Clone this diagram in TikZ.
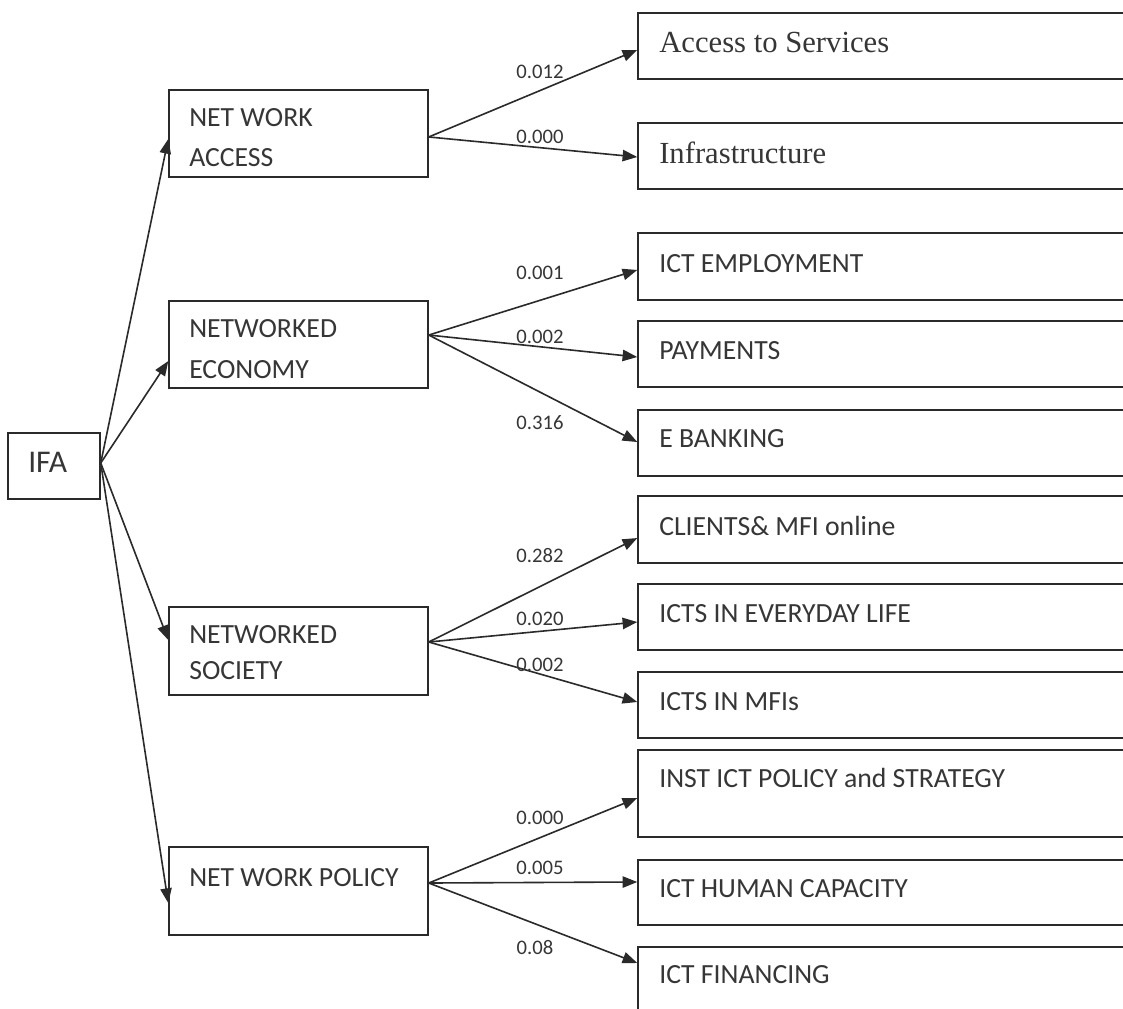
\documentclass[tikz,border=0pt]{standalone}
\usepackage{fontspec}
\setmainfont{Carlito}
\newfontfamily\serifface{Liberation Serif}
\usetikzlibrary{arrows.meta,fit}
\definecolor{inkline}{HTML}{2A2A2A}
\definecolor{inktext}{HTML}{363636}
\begin{document}
\begin{tikzpicture}[x=0.75pt,y=-0.75pt,
  box/.style={draw=inkline,line width=1.1pt,inner sep=0pt},
  txt/.style={anchor=base west,inner sep=0pt,text=inktext,font=\fontsize{20.8}{24}\selectfont},
  serif txt/.style={anchor=base west,inner sep=0pt,text=inktext,font=\serifface\fontsize{23}{27}\selectfont},
  lbl/.style={inner sep=0pt,text=inktext,font=\fontsize{15.5}{18}\selectfont},
  arr/.style={draw=inkline,line width=1.2pt,-{Triangle[length=11pt,width=8.5pt]}}]

\useasboundingbox (0,0) rectangle (1123,1008);
\clip (0,0) rectangle (1123,1008);
\fill[white] (0,0) rectangle (1123,1008);

% root
\node[box,fit={(8,433) (100,499)}] (ifa) {};
\node[txt,font=\fontsize{23.7}{27}\selectfont] (ifaT) at (28,472) {IFA};

% first level
\node[box,fit={(169,90) (428,177)}] (nwa) {};
\node[txt] (nwaA) at (189,126) {NET WORK};
\node[txt] (nwaB) at (189,166) {ACCESS};

\node[box,fit={(169,301) (428,388)}] (eco) {};
\node[txt] (ecoA) at (189,337) {NETWORKED};
\node[txt] (ecoB) at (189,378) {ECONOMY};

\node[box,fit={(169,607) (428,695)}] (soc) {};
\node[txt] (socA) at (189,643) {NETWORKED};
\node[txt] (socB) at (189,679) {SOCIETY};

\node[box,fit={(169,847) (428,935)}] (pol) {};
\node[txt] (polA) at (189,886) {NET WORK POLICY};

% second level (boxes run past the right edge)
\node[box,fit={(638,13) (1140,79)}] (acc) {};
\node[serif txt] (accT) at (659,52) {Access to Services};
\node[box,fit={(638,123) (1140,189)}] (inf) {};
\node[serif txt] (infT) at (659,163) {Infrastructure};

\node[box,fit={(638,233) (1140,300)}] (emp) {};
\node[txt] (empT) at (659,272) {ICT EMPLOYMENT};
\node[box,fit={(638,321) (1140,387)}] (pay) {};
\node[txt] (payT) at (659,359) {PAYMENTS};
\node[box,fit={(638,410) (1140,476)}] (eb) {};
\node[txt] (ebT) at (659,447) {E BANKING};

\node[box,fit={(638,496) (1140,563)}] (cli) {};
\node[txt] (cliT) at (659,535) {CLIENTS\& MFI online};
\node[box,fit={(638,584) (1140,650)}] (eve) {};
\node[txt] (eveT) at (659,622) {ICTS IN EVERYDAY LIFE};
\node[box,fit={(638,672) (1140,738)}] (mfi) {};
\node[txt] (mfiT) at (659,710) {ICTS IN MFIs};

\node[box,fit={(638,750) (1140,837)}] (str) {};
\node[txt] (strT) at (659,787) {INST ICT POLICY and STRATEGY};
\node[box,fit={(638,860) (1140,925)}] (hum) {};
\node[txt] (humT) at (659,897) {ICT HUMAN CAPACITY};
\node[box,fit={(638,947) (1140,1020)}] (fin) {};
\node[txt] (finT) at (659,983) {ICT FINANCING};

% root to first level
\draw[arr] ([yshift=2.25pt]ifa.east) -- ([yshift=-4.1pt]nwa.west);
\draw[arr] ([yshift=2.25pt]ifa.east) -- ([yshift=-12.4pt]eco.west);
\draw[arr] ([yshift=2.25pt]ifa.east) -- ([yshift=8.25pt]soc.west);
\draw[arr] ([yshift=2.25pt]ifa.east) -- ([yshift=-9pt]pol.west);

% first level to second level
\draw[arr] ([yshift=-2.6pt]nwa.east) -- ([yshift=-3pt]acc.west);
\draw[arr] ([yshift=-2.6pt]nwa.east) -- ([yshift=-0.75pt]inf.west);

\draw[arr] ([yshift=7.1pt]eco.east) -- ([yshift=-2.6pt]emp.west);
\draw[arr] ([yshift=7.1pt]eco.east) -- ([yshift=-2.25pt]pay.west);
\draw[arr] ([yshift=7.1pt]eco.east) -- ([yshift=0.75pt]eb.west);

\draw[arr] ([yshift=6.75pt]soc.east) -- ([yshift=-6.4pt]cli.west);
\draw[arr] ([yshift=6.75pt]soc.east) -- ([yshift=-3.75pt]eve.west);
\draw[arr] ([yshift=6.75pt]soc.east) -- ([yshift=2.25pt]mfi.west);

\draw[arr] ([yshift=6pt]pol.east) -- ([yshift=-3.4pt]str.west);
\draw[arr] ([yshift=6pt]pol.east) -- ([yshift=7.9pt]hum.west);
\draw[arr] ([yshift=6pt]pol.east) -- ([yshift=15.4pt]fin.west);

% coefficients
\node[lbl] (c1) at (540,72) {0.012};
\node[lbl] (c2) at (540,137) {0.000};
\node[lbl] (c3) at (540,273) {0.001};
\node[lbl] (c4) at (540,337) {0.002};
\node[lbl] (c5) at (540,423) {0.316};
\node[lbl] (c6) at (540,556) {0.282};
\node[lbl] (c7) at (540,619) {0.020};
\node[lbl] (c8) at (540,665) {0.002};
\node[lbl] (c9) at (540,818) {0.000};
\node[lbl] (c10) at (540,868) {0.005};
\node[lbl] (c11) at (535,948) {0.08};
\end{tikzpicture}
\end{document}
